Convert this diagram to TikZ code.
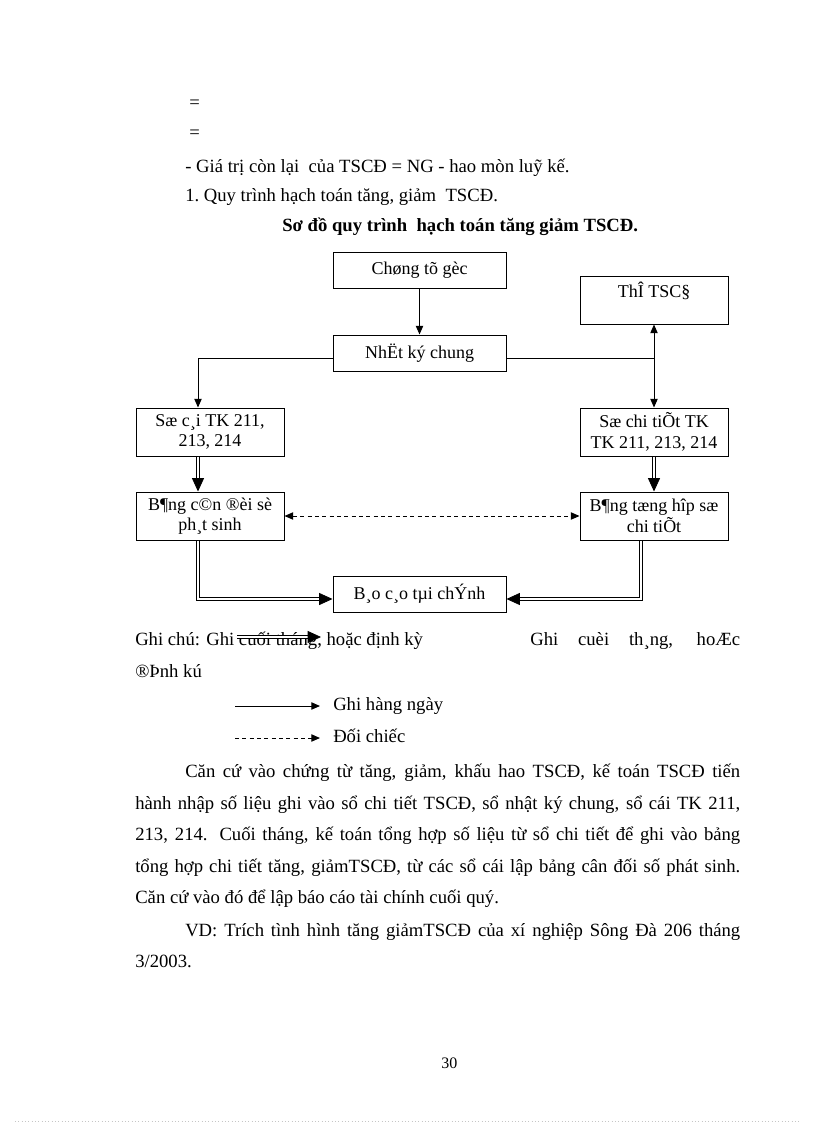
\documentclass[tikz,border=0pt]{standalone}
\usepackage{fontspec}
\setmainfont{Liberation Serif}
\usetikzlibrary{arrows.meta,calc}
\begin{document}
\begin{tikzpicture}[x=0.75pt,y=-0.75pt,
  box/.style={draw,line width=0.75pt,inner sep=0pt,align=center,
    font=\fontsize{13.5}{15.5}\selectfont},
  topbox/.style={box,minimum width=129.75pt,minimum height=27pt},
  sidebox/.style={box,minimum width=111pt,minimum height=36pt},
  thinarrow/.style={line width=0.75pt,-{Triangle[length=6.5pt,width=5.5pt]}},
  plainline/.style={line width=0.75pt},
  dblarrow/.style={double,double distance=1.5pt,line width=0.6pt,
    -{Triangle[length=10pt,width=9pt]}},
  dasharrow/.style={line width=0.75pt,dash pattern=on 3pt off 2.5pt,
    {Triangle[length=6.5pt,width=5.5pt]}-{Triangle[length=6.5pt,width=5.5pt]}},
  txt/.style={anchor=base west,inner sep=0pt,font=\fontsize{14}{16}\selectfont}]
\useasboundingbox (0,0) rectangle (816,1123);
\fill[white] (0,0) rectangle (816,1123);

% --- top text ---
\node[txt] (eq1) at (189,109) {=};
\node[txt] (eq2) at (189,139) {=};
\node[txt] (t1) at (185,173) {- Giá trị còn lại\ \ của TSCĐ = NG - hao mòn luỹ kế.};
\node[txt] (t2) at (185,202) {1.\ Quy trình hạch toán tăng, giảm\ \ TSCĐ.};
\node[txt,font=\fontsize{14}{16}\selectfont\bfseries] (head) at (282,232) {Sơ đồ quy trình\ \ hạch toán tăng giảm TSCĐ.};

% --- boxes ---
\node[topbox] (ctg) at (419.5,270) {Chøng tõ gèc};
\node[sidebox] (the) at (654,300) {ThÎ TSC§\\\mbox{}};
\node[topbox] (nkc) at (419.5,353) {NhËt ký chung};
\node[sidebox] (sc) at (210,432) {Sæ c¸i TK 211,\\213, 214};
\node[sidebox] (sct) at (654,432) {Sæ chi tiÕt TK\\TK 211, 213, 214};
\node[sidebox] (bcd) at (210,516) {B¶ng c©n ®èi sè\\ph¸t sinh};
\node[sidebox] (bth) at (654,516) {B¶ng tæng hîp sæ\\chi tiÕt};
\node[topbox] (bctc) at (419.5,594) {B¸o c¸o tµi chÝnh};

% --- connectors ---
\draw[thinarrow] (ctg) -- (nkc);
\path ($(nkc.east)+(0,5)$) coordinate (nr);
\path ($(nkc.west)+(0,5)$) coordinate (nl);
\coordinate (jr) at (nr -| the.south);
\draw[plainline] (nr) -- (jr);
\draw[thinarrow] (jr) -- (the.south);
\draw[thinarrow] (jr) -- (sct.north);
\path ($(sc.north)+(-12,0)$) coordinate (scn);
\draw[thinarrow] (nl) -| (scn);
\draw[dblarrow] (scn |- sc.south) -- (scn |- bcd.north);
\draw[dblarrow] (sct.south) -- (bth.north);
\draw[dasharrow] (bcd.east) -- (bth.west);
\path ($(bctc.west)+(0,5)$) coordinate (bcw);
\path ($(bctc.east)+(0,5)$) coordinate (bce);
\path ($(bth.south)+(-13,0)$) coordinate (bths);
\draw[dblarrow] (scn |- bcd.south) |- (bcw);
\draw[dblarrow] (bths) |- (bce);

% --- legend ---
\node[txt] (gc) at (135,645) {Ghi chú: Ghi cuối tháng, hoặc định kỳ};
\coordinate (oa) at (237,637);
\coordinate (ob) at (321,637);
\draw[dblarrow] (oa) -- (ob);
\node[txt] (gc2) at (530,645) {\makebox[157.5pt][s]{Ghi cuèi th¸ng, hoÆc}};
\node[txt] (dk) at (135,677) {®Þnh kú};
\coordinate (l1a) at (235,706);
\coordinate (l1b) at (320,706);
\draw[thinarrow] (l1a) -- (l1b);
\node[txt] (l1t) at (333,710) {Ghi hàng ngày};
\coordinate (l2a) at (235,738);
\coordinate (l2b) at (320,738);
\draw[line width=0.75pt,dash pattern=on 3pt off 2.5pt,-{Triangle[length=6.5pt,width=5.5pt]}] (l2a) -- (l2b);
\node[txt] (l2t) at (333,742) {Đối chiếc};

% --- paragraph ---
\node[txt] (p1) at (185,777) {\makebox[416.25pt][s]{Căn cứ vào chứng từ tăng, giảm, khấu hao TSCĐ, kế toán TSCĐ tiến}};
\node[txt] (p2) at (135,809) {\makebox[453.75pt][s]{hành nhập số liệu ghi vào sổ chi tiết TSCĐ, sổ nhật ký chung, sổ cái TK 211,}};
\node[txt] (p3) at (135,840) {\makebox[453.75pt][s]{213, 214. Cuối tháng, kế toán tổng hợp số liệu từ sổ chi tiết để ghi vào bảng}};
\node[txt] (p4) at (135,872) {\makebox[453.75pt][s]{tổng hợp chi tiết tăng, giảmTSCĐ, từ các sổ cái lập bảng cân đối số phát sinh.}};
\node[txt] (p5) at (135,903) {Căn cứ vào đó để lập báo cáo tài chính cuối quý.};
\node[txt] (p6) at (185,936) {\makebox[416.25pt][s]{VD: Trích tình hình tăng giảmTSCĐ của xí nghiệp Sông Đà 206 tháng}};
\node[txt] (p7) at (135,967) {3/2003.};

% --- footer ---
\node[txt,font=\fontsize{12}{14}\selectfont] (pg) at (441,1068) {30};
\draw[gray!45,line width=0.5pt,dotted] (15,1121) -- (800,1121);
\end{tikzpicture}
\end{document}
